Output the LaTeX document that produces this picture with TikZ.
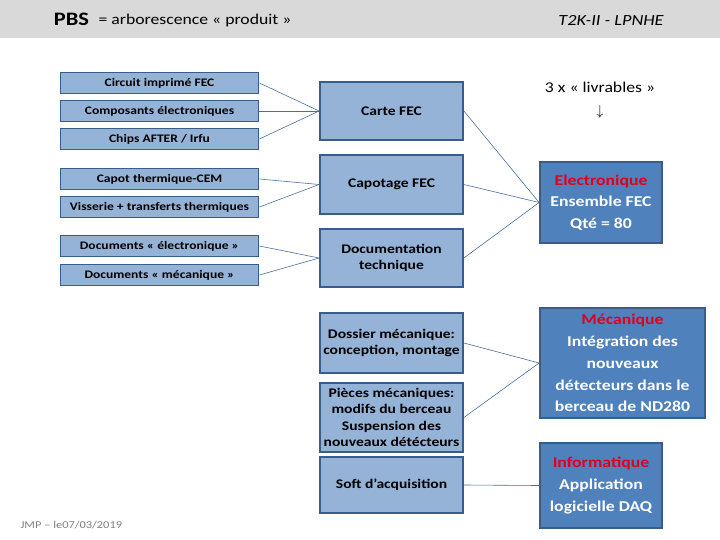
\documentclass[tikz,border=0pt]{standalone}
\usepackage{fontspec}
\setmainfont{Carlito}[FakeStretch=1.18]
\definecolor{bandgray}{HTML}{D9D9D9}
\definecolor{boxedge}{HTML}{385D8A}
\definecolor{boxlight}{HTML}{95B3D7}
\definecolor{boxdark}{HTML}{4F81BD}
\definecolor{linkline}{HTML}{4A6F9E}
\definecolor{tagred}{HTML}{E0001B}
\definecolor{footgray}{HTML}{7F7F7F}
\tikzset{
  part/.style={draw=boxedge, fill=boxlight, line width=1.8pt, inner sep=0pt,
               minimum width=198pt, minimum height=21pt,
               font=\bfseries\fontsize{11.5}{14}\selectfont},
  group/.style={part, minimum width=143pt, align=center,
               font=\bfseries\fontsize{13.2}{16.3}\selectfont},
  deliv/.style={draw=boxedge, fill=boxdark, line width=1.8pt, inner sep=0pt,
               text=white, align=center, font=\bfseries\fontsize{15}{21.8}\selectfont},
  link/.style={draw=linkline, line width=0.6pt},
}

\begin{document}
\begin{tikzpicture}[x=1pt, y=-1pt]
    \useasboundingbox (0,0) rectangle (720,540);
    \fill[bandgray] (0,0) rectangle (720,38);
    \node[font=\bfseries\fontsize{19}{21}\selectfont] (pbs) at (71.5,19) {PBS};
    \node[anchor=west, font=\fontsize{15}{17}\selectfont] (pbstitle) at (95,21) {= arborescence « produit »};
    \node[font=\itshape\fontsize{15.5}{17}\selectfont] (project) at (611,20) {T2K-II  -  LPNHE};

    \node[part] (pcb) at (159.5,83) {Circuit imprimé FEC};
    \node[part] (comp) at (159.5,111) {Composants électroniques};
    \node[part] (chips) at (159.5,139) {Chips AFTER / Irfu};
    \node[part] (capot) at (159.5,179) {Capot thermique-CEM};
    \node[part] (screws) at (159.5,207) {Visserie + transferts thermiques};
    \node[part] (docelec) at (159.5,246) {Documents « électronique »};
    \node[part] (docmeca) at (159.5,275) {Documents « mécanique »};

    \node[group, minimum height=58pt] (carte) at (391.5,111) {Carte FEC};
    \node[group, minimum height=59pt] (capotage) at (391.5,184.5) {Capotage FEC};
    \node[group, minimum height=58pt] (doctech) at (391.5,258) {Documentation\\technique};
    \node[group, minimum height=60pt] (dossier) at (391.5,343) {Dossier mécanique:\\conception, montage};
    \node[group, minimum height=69pt] (pieces) at (391.5,417.5) {Pièces mécaniques:\\modifs du berceau\\Suspension des\\nouveaux détécteurs};
    \node[group, minimum height=56pt] (soft) at (391.5,485) {Soft d’acquisition};

    \node[font=\fontsize{15}{17}\selectfont] (livr) at (600,87) {3 x « livrables »};
    \node[font=\fontsize{15}{17}\selectfont] (livrarrow) at (600,112) {$\downarrow$};

    \node[deliv, minimum width=122pt, minimum height=81pt] (elec) at (601,202.5)
      {\textcolor{tagred}{Electronique}\\Ensemble FEC\\Qté = 80};
    \node[deliv, minimum width=165pt, minimum height=110pt] (meca) at (622.5,363)
      {\textcolor{tagred}{Mécanique}\\Intégration des\\nouveaux\\détecteurs dans le\\berceau de ND280};
    \node[deliv, minimum width=122pt, minimum height=85pt] (info) at (601,485.5)
      {\textcolor{tagred}{Informatique}\\Application\\logicielle DAQ};

    \node[anchor=west, text=footgray, font=\fontsize{10.5}{12}\selectfont] (footer) at (17,525) {JMP – le07/03/2019};

    \draw[link] (pcb.east) -- (carte.west);
    \draw[link] (comp.east) -- (carte.west);
    \draw[link] (chips.east) -- (carte.west);
    \draw[link] (capot.east) -- (capotage.west);
    \draw[link] (screws.east) -- (capotage.west);
    \draw[link] (docelec.east) -- (doctech.west);
    \draw[link] (docmeca.east) -- (doctech.west);
    \draw[link] (carte.east) -- (elec.west);
    \draw[link] (capotage.east) -- (elec.west);
    \draw[link] (doctech.east) -- (elec.west);
    \draw[link] (dossier.east) -- (meca.west);
    \draw[link] (pieces.east) -- (meca.west);
    \draw[link] (soft.east) -- (info.west);
  \end{tikzpicture}
\end{document}
